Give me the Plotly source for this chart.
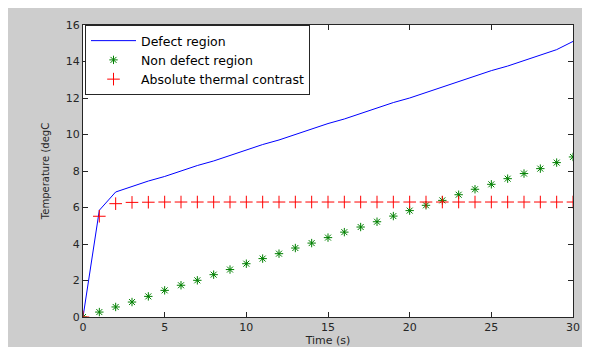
import plotly.graph_objects as go

time_s = list(range(0, 31))
defect_region = [0.0, 5.85, 6.85, 7.15, 7.45, 7.7, 8.0, 8.3, 8.55, 8.85, 9.15,
                 9.45, 9.7, 10.0, 10.3, 10.6, 10.85, 11.15, 11.45, 11.75, 12.0,
                 12.3, 12.6, 12.9, 13.2, 13.5, 13.75, 14.05, 14.35, 14.65, 15.1]
non_defect_region = [0.0, 0.27, 0.55, 0.82, 1.13, 1.46, 1.74, 2.01, 2.32, 2.6, 2.92,
                     3.2, 3.47, 3.78, 4.05, 4.35, 4.65, 4.93, 5.22, 5.53, 5.83,
                     6.12, 6.39, 6.7, 7.0, 7.27, 7.58, 7.86, 8.13, 8.46, 8.77]
abs_contrast = [0.0, 5.52, 6.21, 6.28, 6.29, 6.3, 6.3, 6.3, 6.3, 6.3, 6.3,
                6.3, 6.3, 6.3, 6.3, 6.3, 6.3, 6.3, 6.3, 6.3, 6.3,
                6.3, 6.3, 6.3, 6.3, 6.3, 6.3, 6.3, 6.3, 6.3, 6.3]
x_ticks = [0, 5, 10, 15, 20, 25, 30]
y_ticks = [0, 2, 4, 6, 8, 10, 12, 14, 16]

FONT = "DejaVu Sans, Verdana, sans-serif"

fig = go.Figure()
fig.add_trace(go.Scatter(x=time_s, y=defect_region, mode="lines", name="Defect region",
                         line=dict(color="#0000ff", width=1)))
fig.add_trace(go.Scatter(x=time_s, y=non_defect_region, mode="markers", name="Non defect region",
                         marker=dict(symbol="asterisk-open", size=7, color="#008000",
                                     line=dict(color="#008000", width=1))))
fig.add_trace(go.Scatter(x=time_s, y=abs_contrast, mode="markers", name="Absolute thermal contrast",
                         marker=dict(symbol="cross-thin-open", size=9, color="#ff0000",
                                     line=dict(color="#ff0000", width=1))))

# page is 590x347; the html body margin (8px) leaves a white strip top/left
OFF = 8
W, H = 590 - OFF, 347 - OFF
# plot area in page pixels: x 83..573, y 25..317
L, R, T, B = 83 - OFF, 573 - OFF, 25 - OFF, 317 - OFF
pw, ph = R - L, B - T

def px(x_page):
    return (x_page - OFF - L) / pw

def py(y_page):
    return (B - (y_page - OFF)) / ph

axis_common = dict(showgrid=False, zeroline=False, showline=True, linecolor="#262626",
                   linewidth=1, mirror="ticks", ticks="inside", ticklen=5, automargin=False,
                   tickcolor="#262626", tickfont=dict(family=FONT, size=11, color="#262626"))

fig.update_layout(
    width=W, height=H,
    margin=dict(l=L, r=W - R, t=T, b=H - B, pad=0, autoexpand=False),
    paper_bgcolor="#cdcdcd",
    plot_bgcolor="#ffffff",
    font=dict(family=FONT, size=12, color="#262626"),
    xaxis=dict(range=[0, 30], tickvals=x_ticks,
               title=dict(text="Time (s)", font=dict(family=FONT, size=11), standoff=4),
               **axis_common),
    yaxis=dict(range=[0, 16], tickvals=y_ticks,
               title=dict(text="Temperature (degC", font=dict(family=FONT, size=10), standoff=14),
               **axis_common),
    legend=dict(x=px(85), y=py(25), xanchor="left", yanchor="top",
                bgcolor="#ffffff", bordercolor="#262626", borderwidth=1,
                font=dict(family=FONT, size=12.5, color="#000000"),
                itemwidth=45, tracegroupgap=0),
    showlegend=True,
)

fig.write_html("out.html")
